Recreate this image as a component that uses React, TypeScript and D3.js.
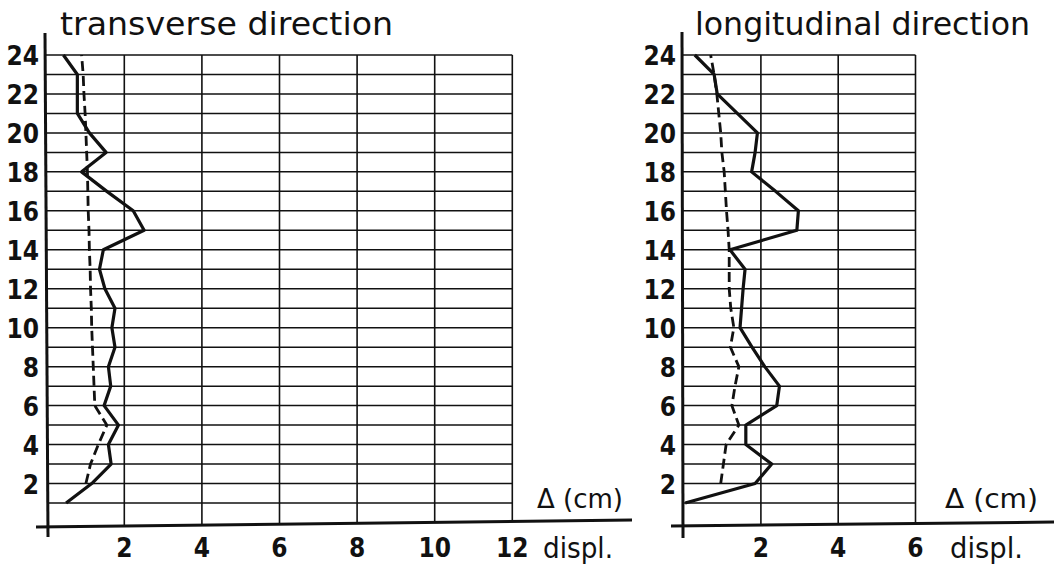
import React from 'react';
import * as d3 from 'd3';

// Storey levels (1..24) and displacement readings Δ (cm)
const levels = [1, 2, 3, 4, 5, 6, 7, 8, 9, 10, 11, 12, 13, 14, 15, 16, 17, 18, 19, 20, 21, 22, 23, 24];
const dashLevels = [2, 3, 4, 5, 6, 7, 8, 9, 10, 11, 12, 13, 14, 15, 16, 17, 18, 19, 20, 21, 22, 23, 24];

const transSolid = [0.50, 1.16, 1.66, 1.59, 1.85, 1.48, 1.65, 1.59, 1.76, 1.68, 1.76, 1.50, 1.36, 1.46, 2.51, 2.23, 1.55, 0.90, 1.53, 1.10, 0.79, 0.79, 0.79, 0.43];
const transDashed = [1.01, 1.13, 1.33, 1.55, 1.24, 1.22, 1.20, 1.18, 1.16, 1.15, 1.13, 1.12, 1.10, 1.09, 1.07, 1.06, 1.05, 1.03, 1.01, 0.99, 0.96, 0.94, 0.90];

const longSolid = [0.04, 1.85, 2.28, 1.61, 1.61, 2.41, 2.48, 2.10, 1.77, 1.46, 1.50, 1.54, 1.59, 1.20, 2.93, 2.97, 2.38, 1.76, 1.85, 1.91, 1.39, 0.87, 0.79, 0.29];
const longDashed = [0.96, 1.03, 1.10, 1.43, 1.25, 1.33, 1.43, 1.21, 1.30, 1.22, 1.18, 1.18, 1.18, 1.15, 1.11, 1.08, 1.05, 0.99, 0.96, 0.91, 0.86, 0.79, 0.70];

const levelTicks = [2, 4, 6, 8, 10, 12, 14, 16, 18, 20, 22, 24];
const transTicksX = [2, 4, 6, 8, 10, 12];
const longTicksX = [2, 4, 6];

const titles = ['transverse direction', 'longitudinal direction'];
const unitLabel = 'Δ (cm)';
const axisLabel = 'displ.';

const INK = '#111';
const LABEL_FONT = "'DejaVu Sans Condensed', 'DejaVu Sans', sans-serif";
const TEXT_FONT = "'DejaVu Sans', sans-serif";

type PanelProps = {
  title: string;
  titleX: number;
  titleLen: number;
  xMax: number;
  xRange: [number, number];
  ticksX: number[];
  solid: number[];
  dashed: number[];
  yAxisTop: [number, number];
  yAxisBottom: [number, number];
  xAxisStart: [number, number];
  xAxisEnd: [number, number];
  yLabelEnd: number;
  unitX: number;
  unitLen: number;
  displX: number;
  displLen: number;
};

const yScale = d3.scaleLinear().domain([1, 24]).range([503, 55]);

function Panel(p: PanelProps) {
  const x = d3.scaleLinear().domain([0, p.xMax]).range(p.xRange);
  const axisYAt = (px: number) =>
    p.xAxisStart[1] + ((px - p.xAxisStart[0]) * (p.xAxisEnd[1] - p.xAxisStart[1])) / (p.xAxisEnd[0] - p.xAxisStart[0]);
  const yAxisXAt = (py: number) =>
    p.yAxisTop[0] + ((py - p.yAxisTop[1]) * (p.yAxisBottom[0] - p.yAxisTop[0])) / (p.yAxisBottom[1] - p.yAxisTop[1]);

  const solidLine = d3
    .line<number>()
    .x((d) => x(d))
    .y((_, i) => yScale(levels[i]));
  const dashedLine = d3
    .line<number>()
    .x((d) => x(d))
    .y((_, i) => yScale(dashLevels[i]));

  return (
    <g>
      {/* horizontal grid */}
      {levels.map((l) => (
        <line
          key={'h' + l}
          x1={yAxisXAt(yScale(l))}
          x2={x(p.xMax)}
          y1={yScale(l)}
          y2={yScale(l)}
          stroke={INK}
          strokeWidth={1.5}
        />
      ))}
      {/* vertical grid */}
      {p.ticksX.map((t) => (
        <line
          key={'v' + t}
          x1={x(t)}
          x2={x(t)}
          y1={yScale(24)}
          y2={axisYAt(x(t))}
          stroke={INK}
          strokeWidth={1.6}
        />
      ))}
      {/* axes */}
      <line x1={p.yAxisTop[0]} y1={p.yAxisTop[1]} x2={p.yAxisBottom[0]} y2={p.yAxisBottom[1]} stroke={INK} strokeWidth={3} />
      <line x1={p.xAxisStart[0]} y1={p.xAxisStart[1]} x2={p.xAxisEnd[0]} y2={p.xAxisEnd[1]} stroke={INK} strokeWidth={3} />

      {/* data */}
      <path d={dashedLine(p.dashed) || ''} fill="none" stroke={INK} strokeWidth={2.8} strokeDasharray="10 5" />
      <path d={solidLine(p.solid) || ''} fill="none" stroke={INK} strokeWidth={3.2} strokeLinejoin="round" />

      {/* level labels */}
      {levelTicks.map((l) => (
        <text
          key={'yl' + l}
          x={p.yLabelEnd}
          y={yScale(l) + 1}
          textAnchor="end"
          dominantBaseline="central"
          fontFamily={LABEL_FONT}
          fontWeight="bold"
          fontSize={26}
          fill={INK}
        >
          {l}
        </text>
      ))}
      {/* x tick labels */}
      {p.ticksX.map((t) => (
        <text
          key={'xl' + t}
          x={x(t)}
          y={557}
          textAnchor="middle"
          fontFamily={LABEL_FONT}
          fontWeight="bold"
          fontSize={26}
          fill={INK}
        >
          {t}
        </text>
      ))}
      <text x={p.displX} y={558} fontFamily={TEXT_FONT} fontSize={29} fill={INK} textLength={p.displLen} lengthAdjust="spacingAndGlyphs">
        {axisLabel}
      </text>
      <text x={p.unitX} y={508} fontFamily={TEXT_FONT} fontSize={26} fill={INK} textLength={p.unitLen} lengthAdjust="spacingAndGlyphs">
        {unitLabel}
      </text>
      <text x={p.titleX} y={35} fontFamily={TEXT_FONT} fontSize={32} fill={INK} textLength={p.titleLen} lengthAdjust="spacingAndGlyphs">
        {p.title}
      </text>
    </g>
  );
}

export default function App() {
  return (
    <svg
      width={1054}
      height={566}
      viewBox="0 0 1054 566"
      style={{ position: 'absolute', left: 0, top: 0, background: '#fff' }}
    >
      <rect x={0} y={0} width={1054} height={566} fill="#fff" />
      <Panel
        title={titles[0]}
        titleX={60}
        titleLen={333}
        xMax={12}
        xRange={[46.7, 512.3]}
        ticksX={transTicksX}
        solid={transSolid}
        dashed={transDashed}
        yAxisTop={[45, 33]}
        yAxisBottom={[48, 537]}
        xAxisStart={[36, 527]}
        xAxisEnd={[632, 520]}
        yLabelEnd={39}
        unitX={537}
        unitLen={86}
        displX={543}
        displLen={70}
      />
      <Panel
        title={titles[1]}
        titleX={695}
        titleLen={335}
        xMax={6}
        xRange={[683.6, 915.5]}
        ticksX={longTicksX}
        solid={longSolid}
        dashed={longDashed}
        yAxisTop={[682, 32]}
        yAxisBottom={[683, 538]}
        xAxisStart={[671, 526]}
        xAxisEnd={[1054, 522]}
        yLabelEnd={676}
        unitX={945}
        unitLen={93}
        displX={950}
        displLen={73}
      />
    </svg>
  );
}
